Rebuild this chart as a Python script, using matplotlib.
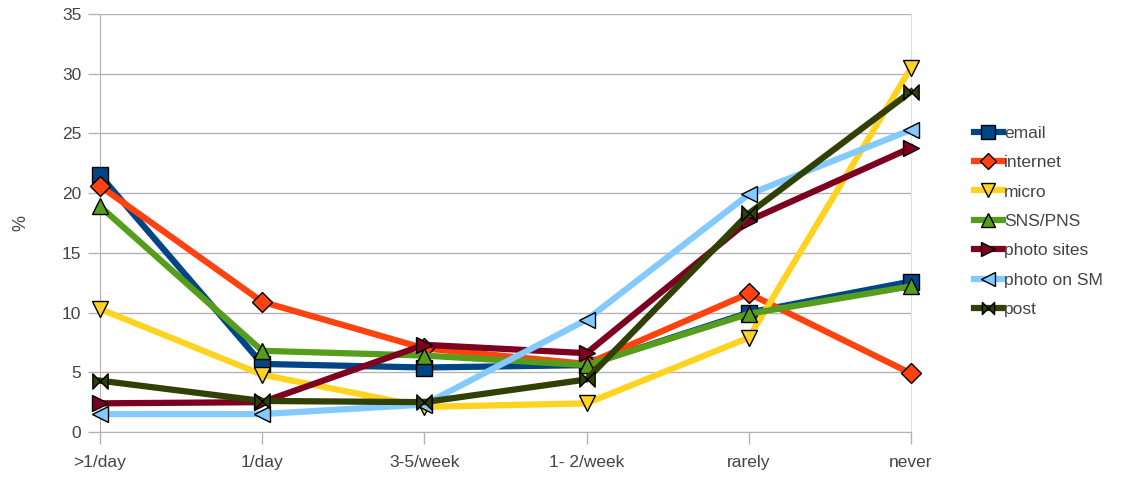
import matplotlib
matplotlib.use("Agg")
import matplotlib.pyplot as plt
from matplotlib.path import Path

categories = [">1/day", "1/day", "3-5/week", "1- 2/week", "rarely", "never"]
email = [21.5, 5.7, 5.4, 5.6, 10.0, 12.6]
internet = [20.6, 10.9, 7.0, 5.7, 11.6, 4.9]
micro = [10.3, 4.8, 2.1, 2.4, 7.9, 30.5]
sns = [18.9, 6.8, 6.4, 5.6, 9.9, 12.2]
photo_sites = [2.4, 2.5, 7.3, 6.6, 17.7, 23.8]
photo_sm = [1.5, 1.5, 2.3, 9.4, 19.9, 25.3]
post = [4.3, 2.6, 2.5, 4.4, 18.3, 28.5]

bowtie = Path([(-1, 1), (-1, -1), (1, 1), (1, -1), (-1, 1)],
              [Path.MOVETO, Path.LINETO, Path.LINETO, Path.LINETO, Path.CLOSEPOLY])

series = [
    ("email", email, "#004586", "s", 12),
    ("internet", internet, "#ff420e", "D", 10),
    ("micro", micro, "#ffd320", "v", 12),
    ("SNS/PNS", sns, "#579d1c", "^", 12),
    ("photo sites", photo_sites, "#7e0021", ">", 12),
    ("photo on SM", photo_sm, "#83caff", "<", 12),
    ("post", post, "#314004", bowtie, 11),
]

plt.rcParams['font.family'] = ['Liberation Sans', 'DejaVu Sans']
fig = plt.figure(figsize=(11.33, 4.8), dpi=100)
ax = fig.add_axes([100/1133, 48/480, (911-100)/1133, (432-14)/480])

x = list(range(len(categories)))
handles = []
for name, vals, col, mk, ms in series:
    h, = ax.plot(x, vals, color=col, lw=4.5, marker=mk, markersize=ms,
                 markerfacecolor=col, markeredgecolor="black", markeredgewidth=1,
                 label=name, clip_on=False, zorder=3)
    handles.append(h)

tc = "#444444"
ax.set_xlim(0, 5)
ax.set_ylim(0, 35)
ax.set_yticks(range(0, 36, 5))
ax.set_xticks(x)
ax.set_xticklabels(categories)
ax.yaxis.grid(True, color="#b3b3b3", lw=1)
ax.set_axisbelow(True)
ax.spines["top"].set_visible(False)
ax.spines["left"].set_color("#b3b3b3")
ax.spines["bottom"].set_color("#b3b3b3")
ax.spines["right"].set_color("#e0e0e0")
ax.tick_params(axis="both", colors="#b3b3b3", labelcolor=tc, labelsize=12.5, length=8.5, width=1)
ax.tick_params(axis="y", pad=5)
ax.tick_params(axis="x", pad=8)
ax.set_ylabel("%", color=tc, fontsize=13, labelpad=23)

fig.legend(handles=handles, loc="upper left", bbox_to_anchor=(958/1133, 1 - 110/480),
           frameon=False, fontsize=12.5, labelspacing=0.82, handlelength=1.7,
           handletextpad=0.05, labelcolor=tc, markerscale=0.8)

fig.savefig("out.png", dpi=100)
